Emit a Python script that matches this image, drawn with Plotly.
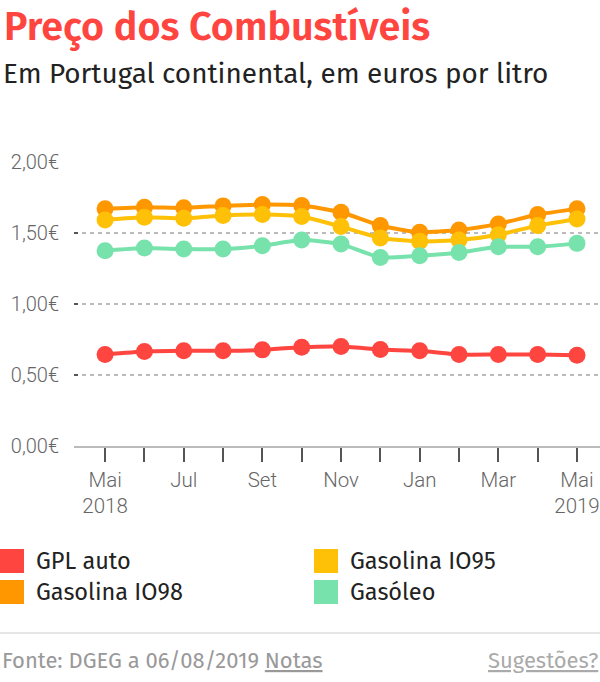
import plotly.graph_objects as go

# ---- data ----
months = list(range(13))  # Mai 2018 .. Mai 2019
month_labels = ["Mai<br>2018", "", "Jul", "", "Set", "", "Nov", "", "Jan", "", "Mar", "", "Mai<br>2019"]
gpl_auto = [0.644, 0.665, 0.670, 0.670, 0.677, 0.696, 0.700, 0.679, 0.670, 0.644, 0.644, 0.644, 0.639]
gasolina_io98 = [1.670, 1.682, 1.677, 1.691, 1.700, 1.693, 1.646, 1.552, 1.505, 1.521, 1.564, 1.630, 1.670]
gasolina_io95 = [1.592, 1.611, 1.604, 1.623, 1.630, 1.616, 1.545, 1.465, 1.441, 1.450, 1.488, 1.552, 1.599]
gasoleo = [1.375, 1.394, 1.387, 1.387, 1.410, 1.450, 1.422, 1.328, 1.340, 1.363, 1.403, 1.403, 1.427]
y_ticks = [0, 0.5, 1.0, 1.5, 2.0]
y_tick_labels = ["0,00€", "0,50€", "1,00€", "1,50€", "2,00€"]

series = [
    ("GPL auto", gpl_auto, "#ff453f"),
    ("Gasolina IO98", gasolina_io98, "#ff9800"),
    ("Gasolina IO95", gasolina_io95, "#ffc107"),
    ("Gasóleo", gasoleo, "#77e2ab"),
]

W, H = 600, 682
L, R, T, B = 74, 0, 162, 236
PW, PH = W - L - R, H - T - B


def px(x):
    return (x - L) / PW


def py(y):
    return (H - B - y) / PH


fig = go.Figure()
for name, vals, col in series:
    fig.add_trace(go.Scatter(
        x=months, y=vals, name=name, mode="lines+markers",
        line=dict(color=col, width=4, shape="spline", smoothing=0.5),
        marker=dict(color=col, size=17),
        cliponaxis=False, hoverinfo="skip", showlegend=False,
    ))

TITLE_FONT = "Fira Sans, Open Sans, sans-serif"
AXIS_FONT = "Roboto, sans-serif"

annotations = [
    dict(text="Preço dos Combustíveis", x=px(2), y=py(1), xanchor="left", yanchor="top",
         font=dict(family=TITLE_FONT, size=39.5, color="#ff453f", weight=600)),
    dict(text="Em Portugal continental, em euros por litro", x=px(1), y=py(73), xanchor="left", yanchor="middle",
         font=dict(family=TITLE_FONT, size=27.9, color="#222222")),
    dict(text="Fonte: DGEG a 06/08/2019 <u>Notas</u>", x=px(0), y=py(660), xanchor="left", yanchor="middle",
         font=dict(family=TITLE_FONT, size=22, color="#999999")),
    dict(text="<u>Sugestões?</u>", x=px(600), y=py(660), xanchor="right", yanchor="middle",
         font=dict(family=TITLE_FONT, size=22, color="#aaaaaa")),
]

shapes = [
    dict(type="line", xref="paper", yref="paper", x0=px(0), x1=px(600), y0=py(633), y1=py(633),
         line=dict(color="#e6e6e6", width=2)),
]

legend_pos = {
    "GPL auto": (0, 561),
    "Gasolina IO95": (314, 561),
    "Gasolina IO98": (0, 592),
    "Gasóleo": (314, 592),
}
for name, vals, col in series:
    x0, yc = legend_pos[name]
    shapes.append(dict(type="rect", xref="paper", yref="paper", x0=px(x0), x1=px(x0 + 24),
                       y0=py(yc - 12), y1=py(yc + 12), fillcolor=col, line=dict(width=0)))
    annotations.append(dict(text=name, x=px(x0 + 34), y=py(yc), xanchor="left", yanchor="middle",
                            font=dict(family=TITLE_FONT, size=23.5, color="#222222")))

for a in annotations:
    a.update(xref="paper", yref="paper", showarrow=False)

fig.update_layout(
    width=W, height=H,
    margin=dict(l=L, r=R, t=T, b=B, pad=0),
    paper_bgcolor="white", plot_bgcolor="white",
    annotations=annotations, shapes=shapes,
    xaxis=dict(
        range=[-0.79, 12.585], tickmode="array", tickvals=months, ticktext=month_labels,
        ticks="outside", ticklen=14, tickwidth=2, tickcolor="#555555",
        showgrid=False, zeroline=False, showline=True, linecolor="#bbbbbb", linewidth=2,
        tickfont=dict(family=AXIS_FONT, size=20.5, color="#666666", weight=300),
        fixedrange=True,
    ),
    yaxis=dict(
        range=[0, 2.0], tickmode="array", tickvals=y_ticks, ticktext=y_tick_labels,
        ticks="inside", ticklen=4, tickwidth=2, tickcolor="#555555",
        showgrid=True, gridcolor="#bbbbbb", gridwidth=1.5, griddash="4px,4px",
        zeroline=False, showline=False, ticklabelstandoff=14,
        tickfont=dict(family=AXIS_FONT, size=20, color="#666666", weight=300),
        fixedrange=True,
    ),
)

fig.write_html("out.html", config={"displayModeBar": False},
               post_script="document.body.style.margin='0';document.body.style.overflow='hidden';")
